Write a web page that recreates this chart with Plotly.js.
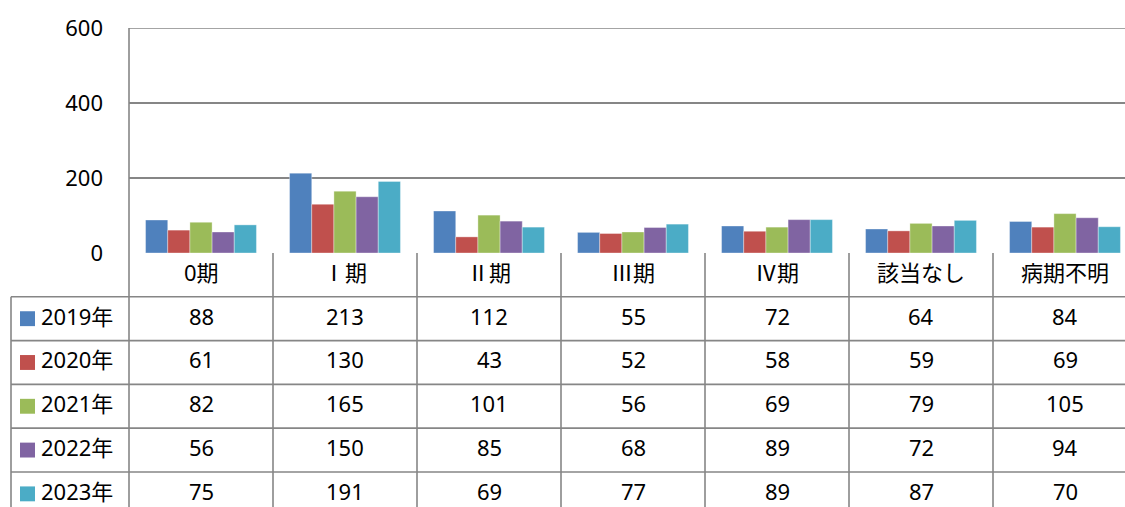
<!DOCTYPE html>
<html><head><meta charset="utf-8">
<script src="https://cdn.plot.ly/plotly-3.0.1.min.js"></script>
<style>html,body{margin:0;padding:0;background:#fff;}</style>
</head><body><div id="chart" style="width:1125px;height:507px;"></div>
<script>
const categories = ["0期", "Ⅰ期", "Ⅱ期", "Ⅲ期", "Ⅳ期", "該当なし", "病期不明"];
const seriesNames = ["2019年", "2020年", "2021年", "2022年", "2023年"];
const v2019 = [88, 213, 112, 55, 72, 64, 84];
const v2020 = [61, 130, 43, 52, 58, 59, 69];
const v2021 = [82, 165, 101, 56, 69, 79, 105];
const v2022 = [56, 150, 85, 68, 89, 72, 94];
const v2023 = [75, 191, 69, 77, 89, 87, 70];
const yTicks = [0, 200, 400, 600];
const colors = ["#4F81BD", "#C0504D", "#9BBB59", "#8064A2", "#4BACC6"];

const allValues = [v2019, v2020, v2021, v2022, v2023];
const FONT = "Noto Sans, Noto Sans CJK JP, sans-serif";
const FS = 22;
const GRID = "#868686";
const W = 1125, ML = 129, plotW = W - ML;
const colPx = 144;
const xMax = -0.5 + plotW / colPx;
const leftPaper = (11 - ML) / plotW;
const YS = 3;

const traces = allValues.map((vals, i) => ({
  type: "bar", name: seriesNames[i], x: categories.map((c, k) => k), y: vals,
  marker: {color: colors[i], line: {color: "rgba(255,255,255,0.35)", width: 1}},
  xaxis: "x", yaxis: "y", hoverinfo: "skip", showlegend: false
}));
traces.push({type: "scatter", x: [], y: [], xaxis: "x", yaxis: "y2", showlegend: false, hoverinfo: "skip"});

const shapes = [];
const annotations = [];
const nRows = seriesNames.length;
shapes.push({type: "line", xref: "paper", yref: "y", x0: 0, x1: 1.2, y0: yTicks[yTicks.length - 1], y1: yTicks[yTicks.length - 1], line: {color: GRID, width: 1.6}});
for (let r = 1; r <= nRows; r++) {
  shapes.push({type: "line", xref: "paper", yref: "y2", x0: leftPaper, x1: 1.2, y0: r - 0.5, y1: r - 0.5, line: {color: GRID, width: 1.6}});
}
for (let k = 1; k <= categories.length; k++) {
  shapes.push({type: "line", xref: "x", yref: "y2", x0: k - 0.5, x1: k - 0.5, y0: -0.5, y1: nRows + 1, line: {color: GRID, width: 1.6}});
}
shapes.push({type: "line", xref: "paper", yref: "paper", x0: 0, x1: 0, y0: 0, y1: 1, line: {color: GRID, width: 1.6}});
shapes.push({type: "line", xref: "paper", yref: "y2", x0: leftPaper, x1: leftPaper, y0: 0.5, y1: nRows + 1, line: {color: GRID, width: 1.6}});

categories.forEach((c, k) => {
  annotations.push({xref: "x", yref: "y2", x: k, y: 0, yshift: YS, text: c, showarrow: false, font: {family: FONT, size: FS, color: "#000"}});
});
seriesNames.forEach((s, r) => {
  const row = r + 1;
  allValues[r].forEach((v, k) => {
    annotations.push({xref: "x", yref: "y2", x: k, y: row, yshift: YS, text: String(v), showarrow: false, font: {family: FONT, size: FS, color: "#000"}});
  });
  annotations.push({xref: "paper", yref: "y2", x: (39 - ML) / plotW, xanchor: "left", y: row, yshift: YS, text: s, showarrow: false, font: {family: FONT, size: FS, color: "#000"}});
  shapes.push({type: "rect", xref: "paper", yref: "y2", x0: (20 - ML) / plotW, x1: (35 - ML) / plotW, y0: row - 0.17, y1: row + 0.17, fillcolor: colors[r], line: {width: 0}});
});

const layout = {
  width: 1125, height: 507,
  margin: {l: ML, r: 0, t: 28, b: 0, pad: 0},
  paper_bgcolor: "#fff", plot_bgcolor: "rgba(0,0,0,0)",
  barmode: "group", bargap: 0.23, bargroupgap: 0,
  font: {family: FONT, size: FS, color: "#000"},
  xaxis: {range: [-0.5, xMax], showticklabels: false, showgrid: false, zeroline: false, showline: false, ticks: "", fixedrange: true},
  yaxis: {domain: [254 / 479, 1], range: [0, 600], tickvals: yTicks, ticktext: yTicks.map(String), showgrid: true, gridcolor: GRID, gridwidth: 1.6, zeroline: false, showline: false, ticks: "", ticklabelstandoff: 25, tickfont: {family: FONT, size: FS, color: "#000"}},
  yaxis2: {domain: [0, 254 / 479], range: [5.3, -0.5], anchor: "x", visible: false, showgrid: false, zeroline: false},
  shapes: shapes, annotations: annotations
};
Plotly.newPlot("chart", traces, layout, {displayModeBar: false, staticPlot: true});
</script></body></html>
